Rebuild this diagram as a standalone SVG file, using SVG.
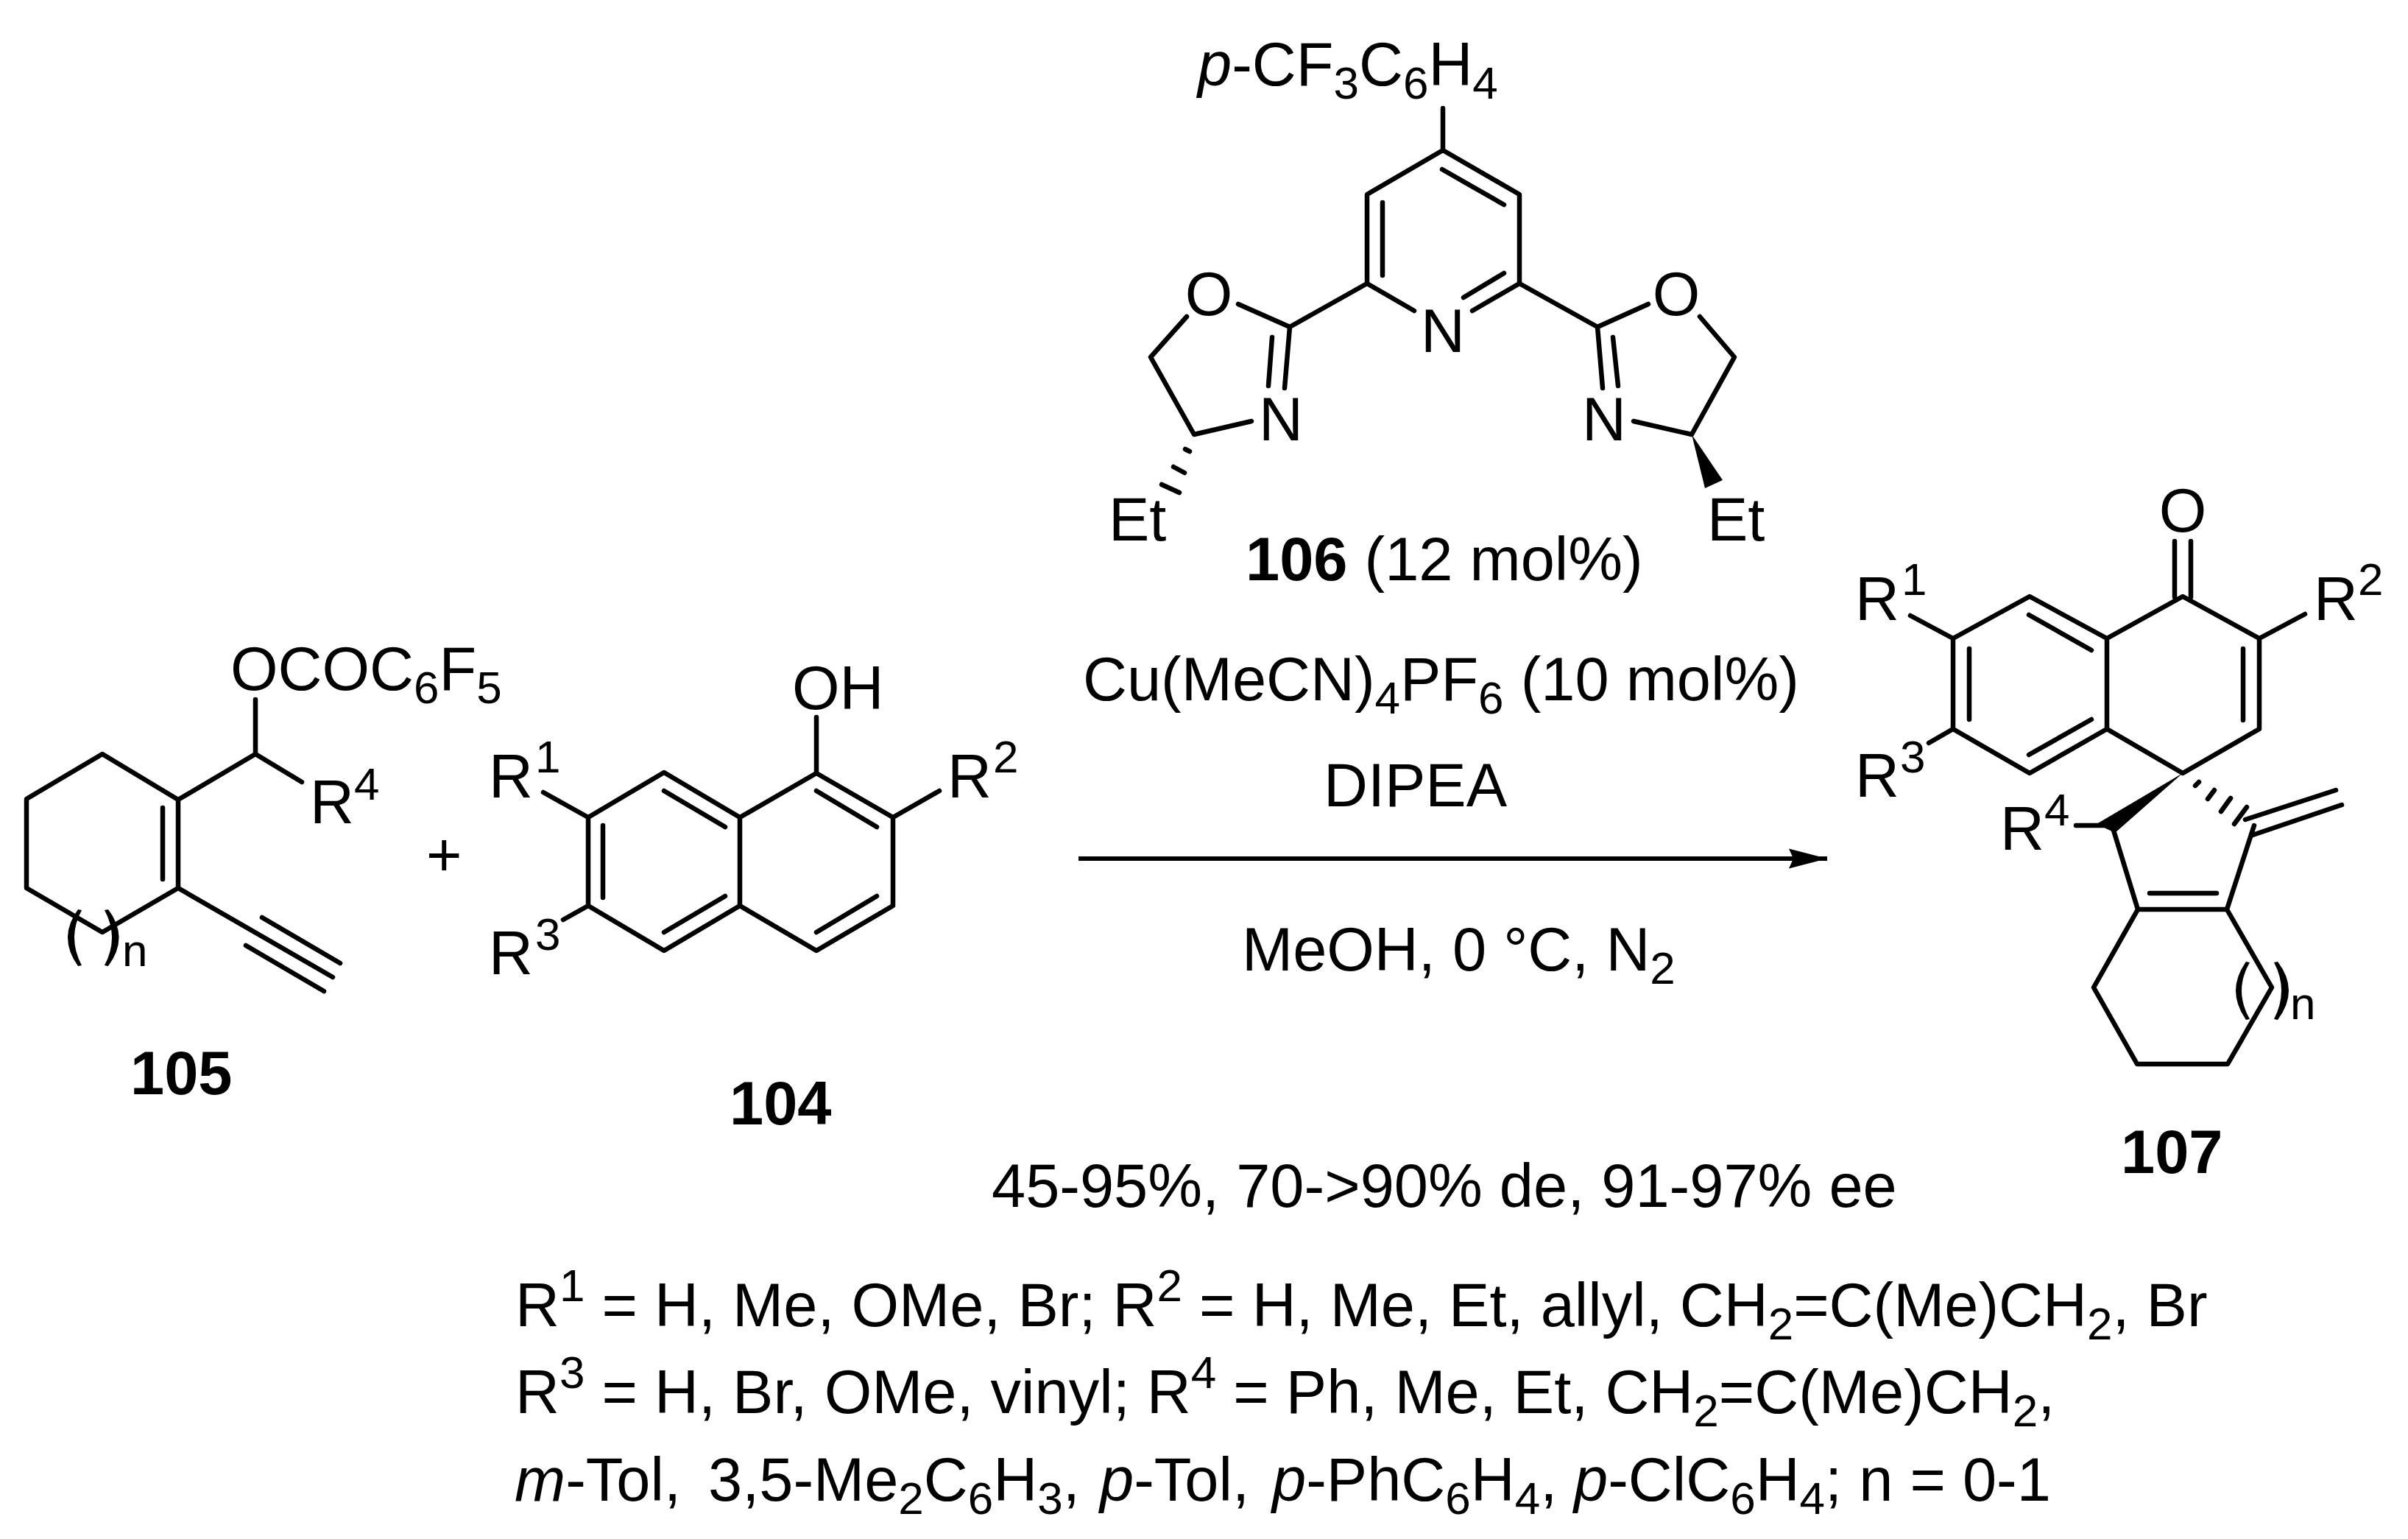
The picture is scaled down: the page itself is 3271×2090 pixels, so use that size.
<svg xmlns="http://www.w3.org/2000/svg" width="3271" height="2090" viewBox="0 0 3271 2090">
<style>
text{font-family:"Liberation Sans",Arial,sans-serif;font-size:83px;fill:#000}
.b{font-weight:700}
.i{font-style:italic}
.s,.n{font-size:62px}
path.l{fill:none;stroke:#000;stroke-width:6.5;stroke-linecap:round;stroke-linejoin:round}
path.f{fill:#000;stroke:none}
</style>
<defs><marker id="ah" markerUnits="userSpaceOnUse" markerWidth="54" markerHeight="30" refX="52" refY="15" orient="auto"><path d="M0 1.5L52 15L0 28.5L6 15Z" fill="#000"/></marker></defs>
<rect width="3271" height="2090" fill="#fff"/>
<g id="node-105">
<path class="l" d="M139 1024L242 1086L242 1206L139 1266L36 1206L36 1085ZM221 1097V1194M242 1086L347 1024V950M347 1024L410 1062M242 1206L452 1327M356 1246L462 1308M334 1284L440 1346"/>
<path class="f" d="M106 1235L111 1236Q91 1273 111 1311L106 1312Q78 1273 106 1235ZM142 1236L147 1235Q176 1273 147 1312L142 1311Q162 1273 142 1236Z"/>
<text x="166" y="1312" class="n">n</text>
<text x="313" y="937">OCOC<tspan class="s" dy="18">6</tspan><tspan dy="-18">F</tspan><tspan class="s" dy="18">5</tspan></text>
<text x="421" y="1118">R<tspan class="s" x="481" dy="-32">4</tspan></text>
<text id="label-105" x="177" y="1486" class="b">105</text>
</g>
<g id="node-plus"><text x="579" y="1189">+</text></g>
<g id="node-104">
<path class="l" d="M902 1049L799 1110V1230L902 1291L1005 1230V1110ZM1005 1110L1109 1050L1213 1110V1230L1109 1291L1005 1230M902 1074L985 1123M819 1121V1219M902 1266L985 1217M1109 1074L1191 1123M1109 1266L1191 1217M1109 1050V974M799 1110L738 1076M799 1230L765 1249M1213 1110L1276 1074"/>
<text x="1076" y="963">OH</text>
<text x="664" y="1083">R<tspan class="s" x="727" dy="-34">1</tspan></text>
<text x="664" y="1323">R<tspan class="s" x="727" dy="-33">3</tspan></text>
<text x="1287" y="1083">R<tspan class="s" x="1349" dy="-34">2</tspan></text>
<text id="label-104" x="991" y="1527" class="b">104</text>
</g>
<g id="node-106">
<path class="l" d="M1960 147V204L2064 264V385L2000 422M1960 204L1857 264V385L1921 422M1878 275V374M1959 230L2043 278M2064 385L2170 444M2043 371L1988 404M1857 385L1752 444L1682 413M1612 430L1563 485L1622 590L1700 572M1752 444L1745 527M1728 458L1723 524M2170 444L2239 413M2309 430L2356 485L2298 590L2219 572M2170 444L2177 527M2191 458L2198 524M1610 610L1616 613M1594 634L1609 642M1578 658L1602 669"/>
<path class="f" d="M2298 590L2316 663L2340 652Z"/>
<text x="1627" y="116"><tspan class="i">p</tspan>-CF<tspan class="s" dy="18">3</tspan><tspan dy="-18">C</tspan><tspan class="s" dy="18">6</tspan><tspan dy="-18">H</tspan><tspan class="s" dy="18">4</tspan></text>
<text x="1960" y="478" text-anchor="middle">N</text>
<text x="1642" y="428" text-anchor="middle">O</text>
<text x="1740" y="598" text-anchor="middle">N</text>
<text x="2277" y="428" text-anchor="middle">O</text>
<text x="2179" y="598" text-anchor="middle">N</text>
<text x="1506" y="734">Et</text>
<text x="2319" y="734">Et</text>
<text id="label-106" x="1692" y="788"><tspan class="b">106</tspan> (12 mol%)</text>
</g>
<g id="node-107">
<path class="l" d="M2954 735V811M2976 735V811M2965 810L3069 867V990L2965 1050L2862 990V867ZM2862 867L2757 810L2653 867V990L2757 1050L2862 990M3047 881V978M2756 835L2841 883M2675 881V977M2756 1025L2841 977M2653 867L2595 836M2653 990L2620 1009M3069 867L3131 834M2820 1121H2869L2904 1235H3025L3062 1121M2920 1213H3011M3060 1134L3181 1093M3050 1113L3173 1073M2904 1235L2844 1341L2903 1445H3026L3086 1341L3025 1235M2982 1067L2987 1062M2999 1085L3008 1073M3017 1102L3030 1084M3035 1119L3052 1096"/>
<path class="f" d="M2965 1050L2848 1119L2873 1131Z"/>
<path class="f" d="M3051 1306L3056 1307Q3034 1345 3056 1384L3051 1385Q3023 1345 3051 1306ZM3089 1307L3094 1306Q3124 1345 3094 1385L3089 1384Q3109 1345 3089 1307Z"/>
<text x="3111" y="1384" class="n">n</text>
<text x="2965" y="722" text-anchor="middle">O</text>
<text x="2520" y="842">R<tspan class="s" x="2583" dy="-34">1</tspan></text>
<text x="2520" y="1082">R<tspan class="s" x="2581" dy="-33">3</tspan></text>
<text x="3143" y="842">R<tspan class="s" x="3203" dy="-34">2</tspan></text>
<text x="2717" y="1154">R<tspan class="s" x="2777" dy="-33">4</tspan></text>
<text id="label-107" x="2881" y="1593" class="b">107</text>
</g>
<g id="connectors">
<path d="M1465 1166H2482" fill="none" stroke="#000" stroke-width="6" marker-end="url(#ah)"/>
</g>
<g id="conditions">
<text x="1471" y="951">Cu(MeCN)<tspan class="s" dy="18">4</tspan><tspan dy="-18">PF</tspan><tspan class="s" dy="18">6</tspan><tspan dy="-18"> (10 mol%)</tspan></text>
<text x="1798" y="1095">DIPEA</text>
<text x="1687" y="1318">MeOH, 0 °C, N<tspan class="s" dy="18">2</tspan></text>
<text x="1347" y="1639">45-95%, 70-&gt;90% de, 91-97% ee</text>
<text x="700" y="1801">R<tspan class="s" dy="-34">1</tspan><tspan dy="34"> = H, Me, OMe, Br; R</tspan><tspan class="s" dy="-34">2</tspan><tspan dy="34"> = H, Me, Et, allyl, CH</tspan><tspan class="s" dy="18">2</tspan><tspan dy="-18">=C(Me)CH</tspan><tspan class="s" dy="18">2</tspan><tspan dy="-18">, Br</tspan></text>
<text x="700" y="1919">R<tspan class="s" dy="-34">3</tspan><tspan dy="34"> = H, Br, OMe, vinyl; R</tspan><tspan class="s" dy="-34">4</tspan><tspan dy="34"> = Ph, Me, Et, CH</tspan><tspan class="s" dy="18">2</tspan><tspan dy="-18">=C(Me)CH</tspan><tspan class="s" dy="18">2</tspan><tspan dy="-18">,</tspan></text>
<text x="699" y="2038"><tspan class="i">m</tspan>-Tol, <tspan x="962">3,5-Me</tspan><tspan class="s" dy="18">2</tspan><tspan dy="-18">C</tspan><tspan class="s" dy="18">6</tspan><tspan dy="-18">H</tspan><tspan class="s" dy="18">3</tspan><tspan dy="-18">, </tspan><tspan class="i" x="1494">p</tspan>-Tol, <tspan class="i" x="1728">p</tspan>-PhC<tspan class="s" dy="18">6</tspan><tspan dy="-18">H</tspan><tspan class="s" dy="18">4</tspan><tspan dy="-18">, </tspan><tspan class="i" x="2138">p</tspan>-ClC<tspan class="s" dy="18">6</tspan><tspan dy="-18">H</tspan><tspan class="s" dy="18">4</tspan><tspan dy="-18">; n = 0-1</tspan></text>
</g>
</svg>
